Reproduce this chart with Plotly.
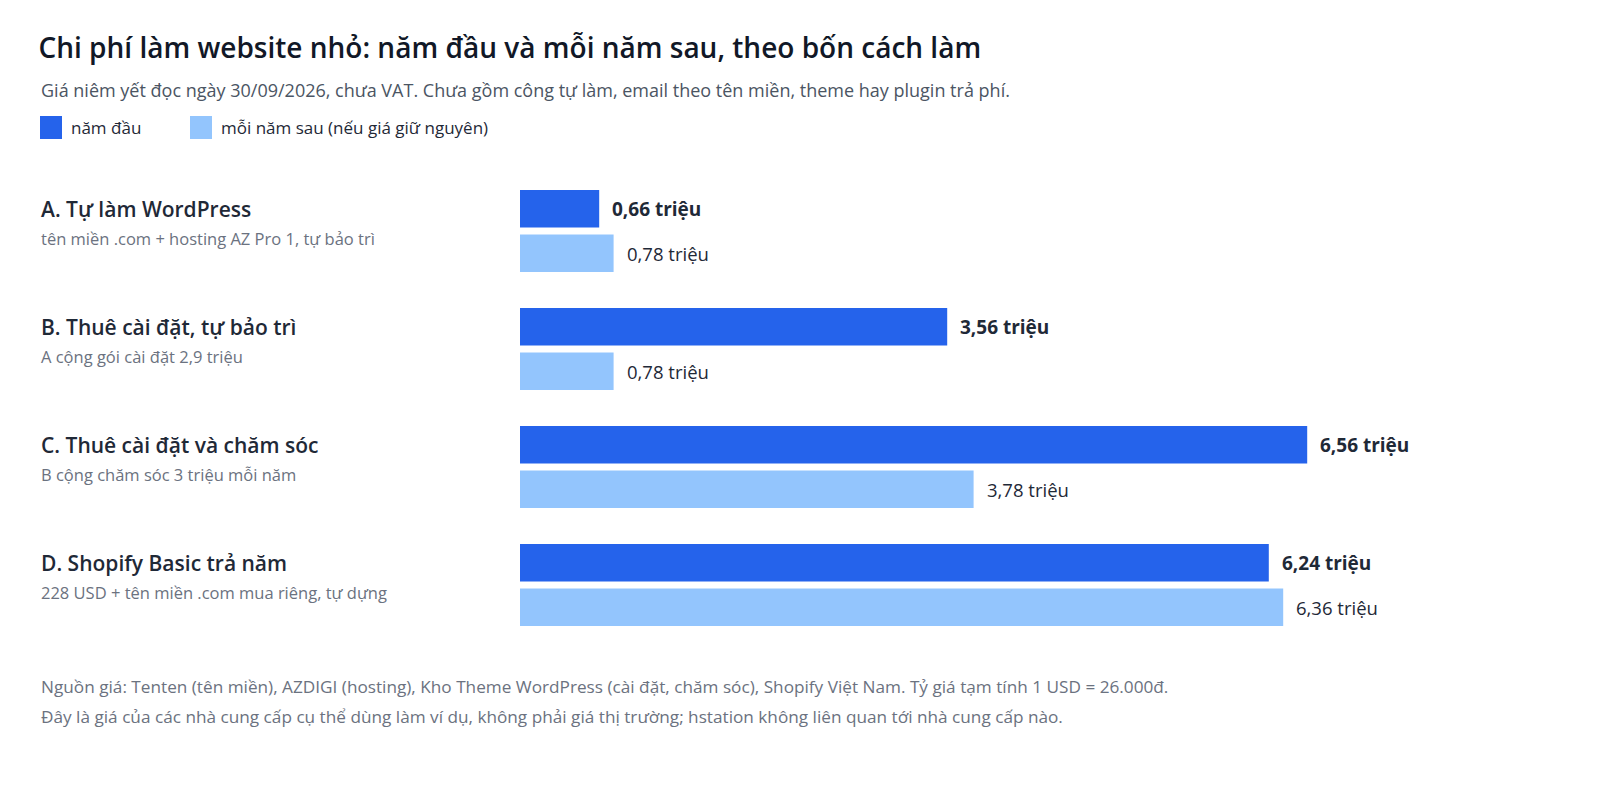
import plotly.graph_objects as go

categories = ["A. Tự làm WordPress", "B. Thuê cài đặt, tự bảo trì",
              "C. Thuê cài đặt và chăm sóc", "D. Shopify Basic trả năm"]
sublabels = ["tên miền .com + hosting AZ Pro 1, tự bảo trì",
             "A cộng gói cài đặt 2,9 triệu",
             "B cộng chăm sóc 3 triệu mỗi năm",
             "228 USD + tên miền .com mua riêng, tự dựng"]
first_year = [0.66, 3.56, 6.56, 6.24]
next_years = [0.78, 0.78, 3.78, 6.36]
series_names = ["năm đầu", "mỗi năm sau (nếu giá giữ nguyên)"]

FONT = "Open Sans"
C1 = "#2563eb"
C2 = "#93c5fd"
DARK = "#1f2937"
GRAY = "#6b7280"

OFF = 8  # page offset of the figure
W, H = 1600, 812
L, R, T, B = 520 - OFF, 80, 172 - OFF, 168 + OFF
PW = W - L - R
PH = H - T - B
TX = 38.5  # left edge of text


def px(xpix):
    return (xpix - OFF - L) / PW


def py(ypix):
    return (H - B - (ypix - OFF)) / PH


def fmt(v):
    return f"{v:.2f}".replace(".", ",") + " triệu"


fig = go.Figure()
fig.add_trace(go.Bar(y=categories, x=first_year, orientation="h", name=series_names[0],
                     marker=dict(color=C1, line=dict(width=0)), hoverinfo="skip"))
fig.add_trace(go.Bar(y=categories, x=next_years, orientation="h", name=series_names[1],
                     marker=dict(color=C2, line=dict(width=0)), hoverinfo="skip"))

ann = []
for cat, sub, v1, v2 in zip(categories, sublabels, first_year, next_years):
    ann.append(dict(x=px(TX), xref="paper", y=cat, yref="y", yshift=22, text=cat,
                    xanchor="left", yanchor="middle", showarrow=False,
                    font=dict(family=FONT, size=21, color=DARK, weight=600)))
    ann.append(dict(x=px(TX), xref="paper", y=cat, yref="y", yshift=-7, text=sub,
                    xanchor="left", yanchor="middle", showarrow=False,
                    font=dict(family=FONT, size=16.5, color=GRAY)))
    ann.append(dict(x=v1, xref="x", y=cat, yref="y", yshift=22, xshift=11, text=fmt(v1),
                    xanchor="left", yanchor="middle", showarrow=False,
                    font=dict(family=FONT, size=19, color=DARK, weight=700)))
    ann.append(dict(x=v2, xref="x", y=cat, yref="y", yshift=-22, xshift=11, text=fmt(v2),
                    xanchor="left", yanchor="middle", showarrow=False,
                    font=dict(family=FONT, size=18.5, color=DARK)))

ann.append(dict(x=px(TX), xref="paper", y=py(90), yref="paper",
                text="Giá niêm yết đọc ngày 30/09/2026, chưa VAT. Chưa gồm công tự làm, email theo tên miền, theme hay plugin trả phí.",
                xanchor="left", yanchor="middle", showarrow=False,
                font=dict(family=FONT, size=18, color="#4b5563")))
ann.append(dict(x=px(69), xref="paper", y=py(127.5), yref="paper", text=series_names[0],
                xanchor="left", yanchor="middle", showarrow=False,
                font=dict(family=FONT, size=17, color=DARK)))
ann.append(dict(x=px(219), xref="paper", y=py(127.5), yref="paper", text=series_names[1],
                xanchor="left", yanchor="middle", showarrow=False,
                font=dict(family=FONT, size=17, color=DARK)))
ann.append(dict(x=px(TX), xref="paper", y=py(686), yref="paper",
                text="Nguồn giá: Tenten (tên miền), AZDIGI (hosting), Kho Theme WordPress (cài đặt, chăm sóc), Shopify Việt Nam. Tỷ giá tạm tính 1 USD = 26.000đ.",
                xanchor="left", yanchor="middle", showarrow=False,
                font=dict(family=FONT, size=17.2, color=GRAY)))
ann.append(dict(x=px(TX), xref="paper", y=py(716), yref="paper",
                text="Đây là giá của các nhà cung cấp cụ thể dùng làm ví dụ, không phải giá thị trường; hstation không liên quan tới nhà cung cấp nào.",
                xanchor="left", yanchor="middle", showarrow=False,
                font=dict(family=FONT, size=17.2, color=GRAY)))

shapes = [
    dict(type="rect", xref="paper", yref="paper", x0=px(40), x1=px(62), y0=py(139), y1=py(116),
         fillcolor=C1, line=dict(width=0)),
    dict(type="rect", xref="paper", yref="paper", x0=px(190), x1=px(212), y0=py(139), y1=py(116),
         fillcolor=C2, line=dict(width=0)),
]

fig.update_layout(
    width=W, height=H,
    margin=dict(l=L, r=R, t=T, b=B, autoexpand=False),
    paper_bgcolor="white", plot_bgcolor="white",
    barmode="group", bargap=0.246, bargroupgap=0.157,
    showlegend=False,
    title=dict(text="Chi phí làm website nhỏ: năm đầu và mỗi năm sau, theo bốn cách làm",
               x=(TX - OFF) / W, xanchor="left", xref="container",
               y=1 - (48 - OFF) / H, yanchor="middle", yref="container",
               font=dict(family=FONT, size=28, color="#111827", weight=600)),
    xaxis=dict(range=[0, PW / 120.0], visible=False, fixedrange=True),
    yaxis=dict(autorange="reversed", visible=False, fixedrange=True),
    annotations=ann, shapes=shapes,
    font=dict(family=FONT),
)

fig.write_html("out.html")
